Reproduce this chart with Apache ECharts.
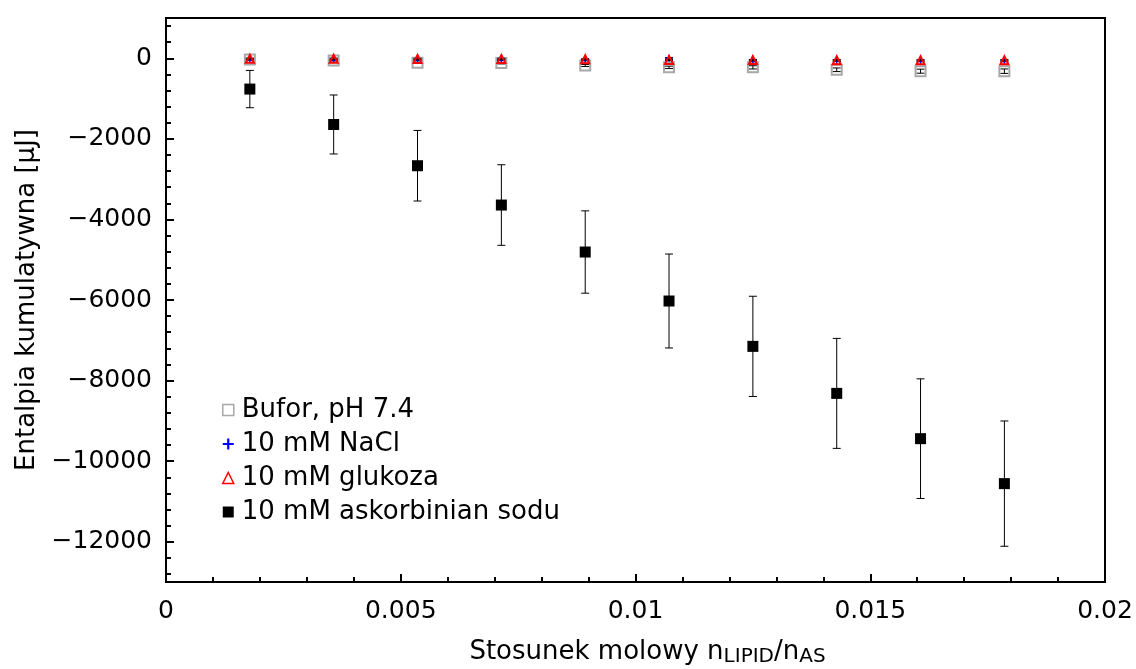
<!DOCTYPE html>
<html>
<head>
<meta charset="utf-8">
<script src="https://cdn.jsdelivr.net/npm/echarts@6/dist/echarts.min.js"></script>
<style>
html,body{margin:0;padding:0;background:#fff;}
#chart{width:1136px;height:669px;}
</style>
</head>
<body>
<div id="chart"></div>
<script>
// ---- data ----
const xValues = [0.001786, 0.003571, 0.005357, 0.007143, 0.008929, 0.010714, 0.0125, 0.014286, 0.016071, 0.017857];
const xTickLabels = ['0', '0.005', '0.01', '0.015', '0.02'];
const yTickValues = [0, -2000, -4000, -6000, -8000, -10000, -12000];

const seriesNames = ['Bufor, pH 7.4', '10 mM NaCl', '10 mM glukoza', '10 mM askorbinian sodu'];

const bufor = [-30, -55, -110, -120, -180, -225, -225, -285, -320, -320];
const buforErr = [10, 10, 15, 20, 25, 30, 40, 45, 50, 55];

const nacl = [-30, -35, -40, -40, -45, 0, -55, -60, -65, -65];
const naclErr = [15, 15, 15, 15, 15, 20, 20, 20, 20, 20];

const glukoza = [-10, -10, -15, -15, -25, -40, -45, -50, -50, -50];
const glukozaErr = [15, 15, 15, 15, 15, 15, 15, 15, 15, 15];

const askorbinian = [-764, -1643, -2667, -3643, -4809, -6025, -7151, -8318, -9442, -10558];
const askorbinianErr = [463, 732, 876, 1000, 1022, 1166, 1244, 1365, 1485, 1555];

// ---- helpers ----
function pts(ys) { return xValues.map((x, i) => [x, ys[i]]); }
function errPts(ys, es) { return xValues.map((x, i) => [x, ys[i], es[i]]); }
function fmtY(v) { return v < 0 ? '\u2212' + Math.abs(v) : String(v); }

const FONT = 'DejaVu Sans';
const FS = 25;
const FS_BIG = 26;

function errRender(params, api) {
  const x = api.value(0), y = api.value(1), e = api.value(2);
  const top = api.coord([x, y + e]);
  const bot = api.coord([x, y - e]);
  const hw = 4;
  const st = { stroke: '#000', lineWidth: 1 };
  return {
    type: 'group',
    children: [
      { type: 'line', shape: { x1: top[0], y1: top[1], x2: bot[0], y2: bot[1] }, style: st },
      { type: 'line', shape: { x1: top[0] - hw, y1: top[1], x2: top[0] + hw, y2: top[1] }, style: st },
      { type: 'line', shape: { x1: bot[0] - hw, y1: bot[1], x2: bot[0] + hw, y2: bot[1] }, style: st }
    ]
  };
}
function errSeries(name, ys, es, z) {
  return {
    name: name, type: 'custom', renderItem: errRender,
    data: errPts(ys, es), encode: { x: 0, y: 1 }, z: z, silent: true
  };
}

const minorY = [];
for (let v = -12800; v <= 800; v += 400) minorY.push(v);

const plusPath = 'path://M4,0L6,0L6,4L10,4L10,6L6,6L6,10L4,10L4,6L0,6L0,4L4,4Z';

const chart = echarts.init(document.getElementById('chart'), null, { renderer: 'canvas' });
chart.setOption({
  animation: false,
  backgroundColor: '#fff',
  textStyle: { fontFamily: FONT },
  grid: {
    left: 166, right: 31, top: 18, bottom: 87,
    outerBoundsMode: 'none', containLabel: false,
    show: true, borderColor: '#000', borderWidth: 2, backgroundColor: 'transparent'
  },
  legend: {
    orient: 'vertical', left: 217, top: 392,
    itemWidth: 11, itemHeight: 11, itemGap: 8,
    textStyle: { fontFamily: FONT, fontSize: FS_BIG, color: '#000', lineHeight: 25, padding: [0, 0, 0, 3] },
    data: [
      { name: seriesNames[0], icon: 'rect', itemStyle: { color: '#fff', borderColor: '#a8a8a8', borderWidth: 1.5, opacity: 1 } },
      { name: seriesNames[1], icon: plusPath, itemStyle: { color: '#0000ff', opacity: 1 } },
      { name: seriesNames[2], icon: 'triangle', itemStyle: { color: '#fff', borderColor: '#ff0000', borderWidth: 1.5, opacity: 1 } },
      { name: seriesNames[3], icon: 'rect', itemStyle: { color: '#000', opacity: 1 } }
    ]
  },
  xAxis: {
    type: 'value', min: 0, max: 0.02, interval: 0.005,
    name: 'Stosunek molowy n{sub|LIPID}/n{sub|AS}',
    nameLocation: 'middle', nameGap: 55,
    nameTextStyle: {
      fontFamily: FONT, fontSize: FS_BIG, color: '#000',
      padding: [0, 0, 0, 24],
      rich: {
        sub: { fontFamily: FONT, fontSize: 20, color: '#000', lineHeight: 16, verticalAlign: 'bottom' }
      },
      lineHeight: 30, verticalAlign: 'top'
    },
    axisLine: { onZero: false, lineStyle: { color: '#000', width: 2 } },
    axisTick: { inside: true, length: 8, lineStyle: { color: '#000', width: 2 } },
    minorTick: { show: true, splitNumber: 5, length: 5, lineStyle: { color: '#000', width: 2 } },
    splitLine: { show: false },
    axisLabel: {
      fontFamily: FONT, fontSize: FS, color: '#000', margin: 17,
      formatter: function (v) {
        const idx = Math.round(v / 0.005);
        return xTickLabels[idx] !== undefined ? xTickLabels[idx] : '';
      }
    }
  },
  yAxis: [
    {
      type: 'value', min: -13000, max: 1000,
      name: 'Entalpia kumulatywna [\u00b5J]',
      nameLocation: 'middle', nameGap: 120,
      nameTextStyle: { fontFamily: FONT, fontSize: FS_BIG, color: '#000' },
      axisLine: { onZero: false, lineStyle: { color: '#000', width: 2 } },
      axisTick: { inside: true, length: 8, customValues: yTickValues, lineStyle: { color: '#000', width: 2 } },
      axisLabel: { fontFamily: FONT, fontSize: FS, color: '#000', margin: 14, customValues: yTickValues, formatter: fmtY },
      splitLine: { show: false }
    },
    {
      type: 'value', min: -13000, max: 1000, position: 'left',
      axisLine: { show: false },
      axisTick: { show: true, inside: true, length: 5, customValues: minorY, lineStyle: { color: '#000', width: 2 } },
      axisLabel: { show: false },
      splitLine: { show: false }
    }
  ],
  series: [
    errSeries('e0', bufor, buforErr, 2),
    {
      name: seriesNames[0], type: 'scatter', data: pts(bufor), z: 3,
      symbol: 'rect', symbolSize: 10,
      itemStyle: { color: 'rgba(255,255,255,0)', borderColor: '#a8a8a8', borderWidth: 2, opacity: 1 }
    },
    errSeries('e1', nacl, naclErr, 4),
    {
      name: seriesNames[1], type: 'scatter', data: pts(nacl), z: 5,
      symbol: plusPath, symbolSize: 7,
      itemStyle: { color: '#0000ff', opacity: 1 }
    },
    errSeries('e2', glukoza, glukozaErr, 6),
    {
      name: seriesNames[2], type: 'scatter', data: pts(glukoza), z: 7,
      symbol: 'triangle', symbolSize: 8,
      itemStyle: { color: 'rgba(255,255,255,0)', borderColor: '#ff0000', borderWidth: 2, opacity: 1 }
    },
    errSeries('e3', askorbinian, askorbinianErr, 8),
    {
      name: seriesNames[3], type: 'scatter', data: pts(askorbinian), z: 9,
      symbol: 'rect', symbolSize: 11,
      itemStyle: { color: '#000', opacity: 1 }
    }
  ]
});
</script>
</body>
</html>
